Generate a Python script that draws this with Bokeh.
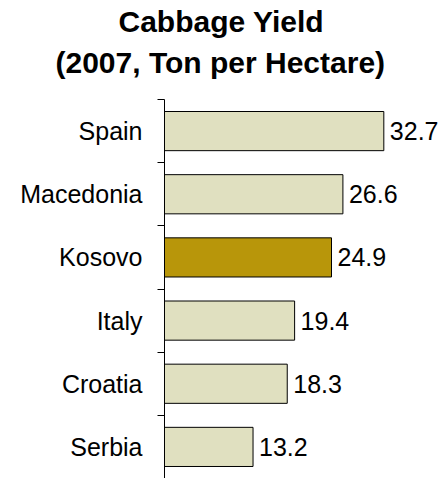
from bokeh.plotting import figure
from bokeh.models import Range1d, FixedTicker, Title, ColumnDataSource
from bokeh.core.properties import value
from bokeh.embed import file_html
from bokeh.resources import INLINE

countries = ["Spain", "Macedonia", "Kosovo", "Italy", "Croatia", "Serbia"]
yields = [32.7, 26.6, 24.9, 19.4, 18.3, 13.2]
highlight = "Kosovo"
title_line1 = "Cabbage Yield"
title_line2 = "(2007, Ton per Hectare)"

FONT = "Liberation Sans"
n = len(countries)
pos = [n - 1 - i + 0.5 for i in range(n)]
bounds = [float(i) for i in range(n + 1)]
colors = ["#B8960A" if c == highlight else "#E0E0C0" for c in countries]
labels = [f"{v:.1f}" for v in yields]
src = ColumnDataSource(dict(country=countries, y=pos, v=yields, color=colors, label=labels))

p = figure(width=441, height=478, output_backend="svg", toolbar_location=None,
           x_range=Range1d(0, 41.3), y_range=Range1d(0, n),
           x_axis_location=None, min_border_left=164, min_border_right=0,
           min_border_bottom=0, min_border_top=0)
p.outline_line_color = None
p.xgrid.visible = False
p.ygrid.visible = False

p.title.text = title_line1
p.title.align = "left"
p.title.offset = -46
p.title.text_font = FONT
p.title.text_font_size = "30px"
p.title.text_font_style = "bold"
p.title.text_color = "black"
p.title.standoff = 4

spacer = Title(text=" ", text_font_size="13px", standoff=0)
p.add_layout(spacer, "above")
t2 = Title(text=title_line2, align="left", offset=-109, text_font=FONT,
           text_font_size="30px", text_font_style="bold", text_color="black", standoff=8)
p.add_layout(t2, "above")

p.hbar(y="y", right="v", left=0, height=0.62, fill_color="color",
       line_color="black", line_width=1, source=src)
p.text(x="v", y="y", text="label", x_offset=6, text_baseline="middle",
       text_align="left", text_font=value(FONT), text_font_size="25px",
       text_color="black", source=src)

ax = p.yaxis[0]
ax.ticker = FixedTicker(ticks=pos, minor_ticks=bounds)
ax.major_label_overrides = {y: c for y, c in zip(pos, countries)}
ax.major_tick_out = 0
ax.major_tick_in = 0
ax.minor_tick_out = 7
ax.minor_tick_in = 0
ax.minor_tick_line_color = "black"
ax.axis_line_color = "black"
ax.major_label_standoff = 15
ax.major_label_text_font = FONT
ax.major_label_text_font_size = "25px"
ax.major_label_text_color = "black"

open("out.html", "w").write(file_html(p, INLINE))
